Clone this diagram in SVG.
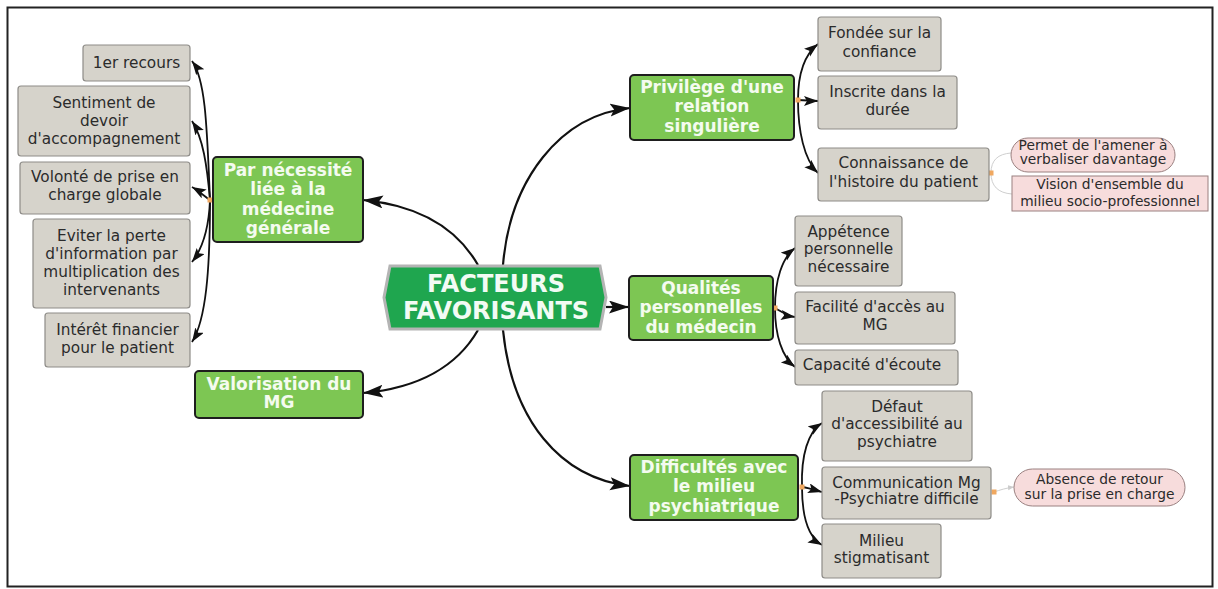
<svg xmlns="http://www.w3.org/2000/svg" width="1218" height="589" viewBox="0 0 1218 589">
<style>
.g rect{fill:#d6d3cb;stroke:#8e8c88;stroke-width:1.2}
.g text{font-family:"DejaVu Sans","Noto Sans",sans-serif;font-size:15.3px;fill:#2b2b2b;text-anchor:middle}
.m rect{fill:#7dc653;stroke:#1e1e1e;stroke-width:2}
.m text{font-family:"DejaVu Sans","Noto Sans",sans-serif;font-size:17px;font-weight:bold;fill:#f4fbef;text-anchor:middle}
.p rect{fill:#f7dcdc;stroke:#9a8080;stroke-width:1}
.p text{font-family:"DejaVu Sans","Noto Sans",sans-serif;font-size:13.8px;fill:#2b2b2b;text-anchor:middle}
.c{fill:none;stroke:#111;stroke-width:2.2}
.cc{fill:none;stroke:#111;stroke-width:1.8}
.cf{fill:none;stroke:#cfcfcf;stroke-width:1}
.dot{fill:#f0a860}
</style>
<defs>
<marker id="big" markerUnits="userSpaceOnUse" markerWidth="22" markerHeight="14" refX="20" refY="6.5" orient="auto"><path d="M0,0 L20,6.5 L0,13 L4,6.5 z" fill="#111"/></marker>
<marker id="sm" markerUnits="userSpaceOnUse" markerWidth="16" markerHeight="12" refX="14" refY="5" orient="auto"><path d="M0,0 L14,5 L0,10 L3,5 z" fill="#111"/></marker>
<marker id="fa" markerUnits="userSpaceOnUse" markerWidth="8" markerHeight="6" refX="6" refY="2.5" orient="auto"><path d="M0,0 L6,2.5 L0,5 z" fill="#ccc"/></marker>
</defs>
<rect x="7.5" y="7.5" width="1205" height="579" fill="#fff" stroke="#222" stroke-width="2"/>

<g id="connectors">
<path class="c" d="M478,265 C455,225 415,205 363,200" marker-end="url(#big)"/>
<path class="c" d="M503,265 C510,180 560,115 630,108" marker-end="url(#big)"/>
<path class="c" d="M478,330 C458,365 420,388 363,393" marker-end="url(#big)"/>
<path class="c" d="M503,330 C512,420 560,478 630,486" marker-end="url(#big)"/>
<path class="c" d="M606,307 L629,307" marker-end="url(#big)"/>
<path class="cc" d="M210,200 C207,130 206,80 192,61" marker-end="url(#sm)"/>
<path class="cc" d="M210,200 C207,165 203,138 192,121" marker-end="url(#sm)"/>
<path class="cc" d="M210,200 C204,196 199,191 192,187" marker-end="url(#sm)"/>
<path class="cc" d="M210,200 C209,225 203,248 192,262" marker-end="url(#sm)"/>
<path class="cc" d="M210,200 C210,270 206,320 192,342" marker-end="url(#sm)"/>
<path class="cc" d="M798,100 C798,75 804,55 818,44" marker-end="url(#sm)"/>
<path class="cc" d="M798,100 C805,100 811,101 818,101" marker-end="url(#sm)"/>
<path class="cc" d="M798,100 C798,130 804,160 818,173" marker-end="url(#sm)"/>
<path class="cc" d="M775,308 C775,280 782,258 795,248" marker-end="url(#sm)"/>
<path class="cc" d="M775,308 C782,312 788,316 795,317" marker-end="url(#sm)"/>
<path class="cc" d="M775,308 C775,335 782,357 795,367" marker-end="url(#sm)"/>
<path class="cc" d="M802,487 C801,455 808,432 822,423" marker-end="url(#sm)"/>
<path class="cc" d="M802,487 C809,488 815,490 822,492" marker-end="url(#sm)"/>
<path class="cc" d="M802,487 C802,515 808,537 822,545" marker-end="url(#sm)"/>
<path class="cf" d="M991,173 C991,160 998,154 1011,153"/>
<path class="cf" d="M991,173 C991,186 998,193 1012,194"/>
<path class="cf" d="M994,492 C1000,490 1006,488 1014,487" marker-end="url(#fa)"/>
<rect class="dot" x="207.5" y="197.5" width="5" height="5"/>
<rect class="dot" x="795.5" y="97.5" width="5" height="5"/>
<rect class="dot" x="772.5" y="305.5" width="5" height="5"/>
<rect class="dot" x="799.5" y="484.5" width="5" height="5"/>
<rect class="dot" x="988.5" y="170.5" width="5" height="5"/>
<rect class="dot" x="991.5" y="489.5" width="5" height="5"/>
</g>

<g id="central">
<polygon points="390,266 600,266 606,297.5 600,329 390,329 384,297.5" fill="#1fa64f" stroke="#b4b4b4" stroke-width="3"/>
<text x="496" y="292" font-family="DejaVu Sans,sans-serif" font-size="24" font-weight="bold" fill="#f2fbf4" text-anchor="middle">FACTEURS</text>
<text x="496" y="319" font-family="DejaVu Sans,sans-serif" font-size="24" font-weight="bold" fill="#f2fbf4" text-anchor="middle">FAVORISANTS</text>
</g>

<g id="n-necessite" class="m"><rect x="213" y="157" width="150" height="85" rx="4"/>
<text x="288" y="175.5">Par nécessité</text><text x="288" y="195">liée à la</text><text x="288" y="214.5">médecine</text><text x="288" y="234">générale</text></g>
<g id="n-valorisation" class="m"><rect x="195" y="371" width="168" height="47" rx="4"/>
<text x="279" y="389.5">Valorisation du</text><text x="279" y="408">MG</text></g>
<g id="n-privilege" class="m"><rect x="630" y="75" width="164" height="65" rx="4"/>
<text x="712" y="92.5">Privilège d'une</text><text x="712" y="112">relation</text><text x="712" y="131.5">singulière</text></g>
<g id="n-qualites" class="m"><rect x="629" y="276" width="144" height="64" rx="4"/>
<text x="701" y="293.5">Qualités</text><text x="701" y="313">personnelles</text><text x="701" y="332.5">du médecin</text></g>
<g id="n-difficultes" class="m"><rect x="630" y="455" width="168" height="65" rx="4"/>
<text x="714" y="472.5">Difficultés avec</text><text x="714" y="492">le milieu</text><text x="714" y="511.5">psychiatrique</text></g>

<g id="n-recours" class="g"><rect x="83" y="45" width="107" height="36" rx="3"/><text x="136.5" y="68">1er recours</text></g>
<g id="n-sentiment" class="g"><rect x="18" y="86" width="172" height="70" rx="3"/>
<text x="104" y="107.5">Sentiment de</text><text x="104" y="125.5">devoir</text><text x="104" y="143.5">d'accompagnement</text></g>
<g id="n-volonte" class="g"><rect x="20" y="162" width="170" height="52" rx="3"/>
<text x="105" y="182">Volonté de prise en</text><text x="105" y="200">charge globale</text></g>
<g id="n-eviter" class="g"><rect x="33" y="219" width="157" height="89" rx="3"/>
<text x="111.5" y="241">Eviter la perte</text><text x="111.5" y="259">d'information par</text><text x="111.5" y="277">multiplication des</text><text x="111.5" y="295">intervenants</text></g>
<g id="n-interet" class="g"><rect x="45" y="313" width="145" height="54" rx="3"/>
<text x="117.5" y="335">Intérêt financier</text><text x="117.5" y="352.5">pour le patient</text></g>

<g id="n-fondee" class="g"><rect x="818" y="17" width="123" height="54" rx="3"/>
<text x="879.5" y="38">Fondée sur la</text><text x="879.5" y="57">confiance</text></g>
<g id="n-inscrite" class="g"><rect x="818" y="76" width="139" height="53" rx="3"/>
<text x="887.5" y="97">Inscrite dans la</text><text x="887.5" y="115">durée</text></g>
<g id="n-connaissance" class="g"><rect x="818" y="148" width="171" height="53" rx="3"/>
<text x="903.5" y="168">Connaissance de</text><text x="903.5" y="187">l'histoire du patient</text></g>
<g id="n-permet" class="p"><rect x="1011" y="138" width="164" height="34" rx="17"/>
<text x="1093" y="150">Permet de l'amener à</text><text x="1093" y="164">verbaliser davantage</text></g>
<g id="n-vision" class="p"><rect x="1012" y="176" width="196" height="35"/>
<text x="1110" y="189">Vision d'ensemble du</text><text x="1110" y="205.5">milieu socio-professionnel</text></g>

<g id="n-appetence" class="g"><rect x="795" y="216" width="107" height="70" rx="3"/>
<text x="848.5" y="237">Appétence</text><text x="848.5" y="254">personnelle</text><text x="848.5" y="272">nécessaire</text></g>
<g id="n-facilite" class="g"><rect x="795" y="292" width="160" height="52" rx="3"/>
<text x="875" y="312">Facilité d'accès au</text><text x="875" y="330">MG</text></g>
<g id="n-capacite" class="g"><rect x="795" y="350" width="163" height="35" rx="3"/>
<text x="872" y="370">Capacité d'écoute</text></g>

<g id="n-defaut" class="g"><rect x="822" y="391" width="150" height="70" rx="3"/>
<text x="897" y="412">Défaut</text><text x="897" y="429">d'accessibilité au</text><text x="897" y="447">psychiatre</text></g>
<g id="n-communication" class="g"><rect x="822" y="467" width="169" height="52" rx="3"/>
<text x="906.5" y="488">Communication Mg</text><text x="906.5" y="504">-Psychiatre difficile</text></g>
<g id="n-milieu" class="g"><rect x="822" y="524" width="119" height="54" rx="3"/>
<text x="881.5" y="546">Milieu</text><text x="881.5" y="563">stigmatisant</text></g>
<g id="n-absence" class="p"><rect x="1014" y="469" width="171" height="37" rx="18.5"/>
<text x="1099.5" y="484">Absence de retour</text><text x="1099.5" y="499">sur la prise en charge</text></g>
</svg>
